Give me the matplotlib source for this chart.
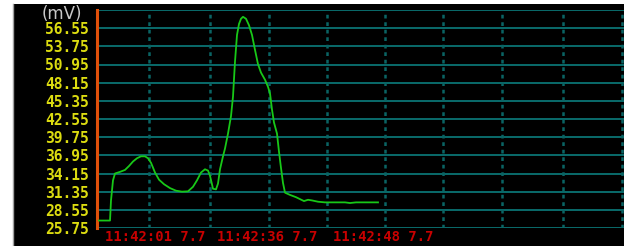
import matplotlib.pyplot as plt
from matplotlib.patches import Rectangle
from matplotlib.lines import Line2D

# signal trace (sample index, mV)
SAMPLES = [2, 13, 14, 16, 18, 23, 28, 32, 36, 40, 44, 48, 51, 54, 58, 62, 67, 73, 79, 85,
           91, 96, 100, 104, 108, 111, 113, 116, 119, 121, 123, 126, 128, 131, 134, 136,
           138, 140, 142, 144, 146, 149, 152, 155, 158, 161, 164, 168, 171, 173, 175, 177,
           180, 182, 184, 186, 188, 193, 199, 203, 207, 211, 215, 221, 228, 238, 248, 253,
           259, 268, 281]
VOLTS = [26.9, 26.9, 30.0, 33.1, 34.15, 34.4, 34.7, 35.3, 36.0, 36.5, 36.8, 36.8, 36.5,
         35.8, 34.3, 33.2, 32.5, 31.9, 31.5, 31.35, 31.4, 32.1, 33.1, 34.3, 34.8, 34.6, 33.8,
         31.8, 31.7, 32.6, 34.8, 36.8, 38.0, 40.3, 43.0, 46.0, 51.4, 55.5, 57.2, 58.0, 58.3,
         58.0, 57.0, 55.5, 53.2, 51.0, 49.7, 48.6, 47.5, 46.5, 44.0, 42.0, 40.3, 37.5, 35.0,
         32.7, 31.2, 30.85, 30.5, 30.2, 29.9, 30.1, 30.0, 29.8, 29.7, 29.7, 29.7, 29.6, 29.7,
         29.7, 29.7]

Y_TICKS = [25.75, 28.55, 31.35, 34.15, 36.95, 39.75, 42.55, 45.35, 48.15, 50.95, 53.75, 56.55]
Y_TOP = 59.35
V_GRID = [52, 113, 172, 230, 288, 346, 405, 466, 525]
TIME_POS = [8, 120, 236]
TIME_LABELS = ['11:42:01 7.7', '11:42:36 7.7', '11:42:48 7.7']

fig = plt.figure(figsize=(6.24, 2.46), dpi=100, facecolor='white')
# black panel with grey left edge
fig.patches.append(Rectangle((13 / 624, 0), 1, 1 - 4 / 246, transform=fig.transFigure,
                             facecolor='black', edgecolor='none', zorder=-10))
fig.lines.append(Line2D([12.5 / 624, 12.5 / 624], [0, 1 - 4 / 246], transform=fig.transFigure,
                        color='#a0a0a0', lw=1, zorder=-9))

ax = fig.add_axes([97 / 624, 1 - 228 / 246, 1 - 97 / 624, 218 / 246])
ax.set_zorder(1)
ax.set_facecolor('black')
ax.set_xlim(0, 527)
ax.set_ylim(Y_TICKS[0], Y_TOP)

for y in Y_TICKS + [Y_TOP]:
    ax.axhline(y, color='#0b7d7d', lw=1.2, zorder=1)
for x in V_GRID:
    ax.axvline(x, color='#0a6464', lw=1.8, ls=(0, (1.5, 1.5)), zorder=1)

ax.plot(SAMPLES, VOLTS, color='#18c818', lw=1.3, zorder=3)

for s in ['top', 'right', 'bottom']:
    ax.spines[s].set_visible(False)
ax.spines['left'].set_color('#e0500a')
ax.spines['left'].set_linewidth(2.2)

ax.set_yticks(Y_TICKS)
ax.set_yticklabels([f'{v:.2f}' for v in Y_TICKS], color='#dcdc10',
                   fontfamily='DejaVu Sans Mono', fontweight='bold', fontsize=10.5)
ax.tick_params(axis='y', length=0, pad=6)
ax.set_xticks([])

ax.text(-15, 58.8, '(mV)', color='#c8c8c8', fontsize=12, ha='right', va='center',
        clip_on=False)

for x, lab in zip(TIME_POS, TIME_LABELS):
    ax.text(x, -0.042, lab, transform=ax.get_xaxis_transform(), color='#c80000',
            fontfamily='DejaVu Sans Mono', fontweight='bold', fontsize=10,
            ha='left', va='center')

fig.savefig('out.png', dpi=100, facecolor='white')
